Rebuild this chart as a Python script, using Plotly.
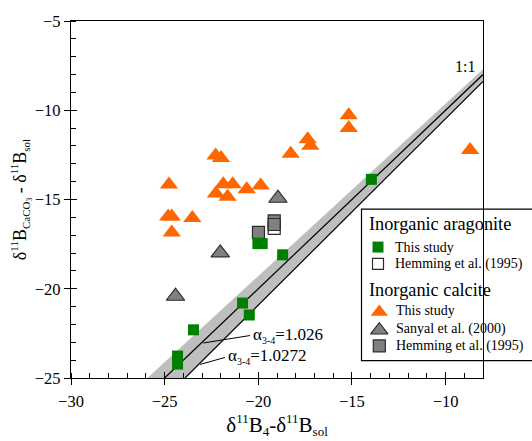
import plotly.graph_objects as go

# ---- data -------------------------------------------------------------
# Inorganic aragonite, this study
arag_x = [-13.96, -18.70, -20.02, -19.79, -20.84, -20.48, -23.46, -24.31, -24.31]
arag_y = [-13.87, -18.10, -17.47, -17.47, -20.80, -21.47, -22.30, -23.77, -24.22]
# Inorganic aragonite, Hemming et al. (1995)
hem_arag_x = [-19.15]
hem_arag_y = [-16.62]
# Inorganic calcite, this study
calc_x = [-15.17, -15.17, -17.36, -17.22, -18.27, -8.69, -22.28, -21.99,
          -24.77, -21.87, -21.37, -22.26, -21.64, -20.62, -19.87,
          -24.81, -24.62, -23.52, -24.62]
calc_y = [-10.28, -11.00, -11.63, -11.99, -12.44, -12.23, -12.54, -12.68,
          -14.16, -14.15, -14.15, -14.66, -14.84, -14.42, -14.21,
          -15.95, -15.95, -16.04, -16.85]
# Inorganic calcite, Sanyal et al. (2000)
sanyal_x = [-18.95, -22.03, -24.42]
sanyal_y = [-14.93, -17.99, -20.42]
# Inorganic calcite, Hemming et al. (1995)
hem_calc_x = [-19.15, -19.99, -19.15]
hem_calc_y = [-16.20, -16.84, -16.40]

# reference lines
line_11_x = [-25.0, -8.0]
line_11_y = [-25.0, -8.0]
line_alt_x = [-23.91, -8.0]
line_alt_y = [-25.0, -8.39]
band_x = [-25.92, -8.0, -8.0, -23.91]
band_y = [-25.0, -7.70, -8.39, -25.0]

FONT = "Liberation Serif, Times New Roman, serif"
ORANGE = "#FF6600"
GREEN = "#008000"
GRAY = "#808080"
EDGE = "#2b2b2b"
BAND = "#BEBEBE"

fig = go.Figure()

# uncertainty band and reference lines
fig.add_trace(go.Scatter(x=band_x + [band_x[0]], y=band_y + [band_y[0]],
                         mode="lines", fill="toself", fillcolor=BAND,
                         line=dict(width=0), hoverinfo="skip"))
fig.add_trace(go.Scatter(x=line_11_x, y=line_11_y, mode="lines",
                         line=dict(color="black", width=1.2)))
fig.add_trace(go.Scatter(x=line_alt_x, y=line_alt_y, mode="lines",
                         line=dict(color="black", width=1.2)))

# data series
fig.add_trace(go.Scatter(x=calc_x, y=calc_y, mode="markers",
                         marker=dict(symbol="triangle-up", size=16, color=ORANGE,
                                     line=dict(width=0))))
fig.add_trace(go.Scatter(x=sanyal_x, y=sanyal_y, mode="markers",
                         marker=dict(symbol="triangle-up", size=16, color=GRAY,
                                     line=dict(width=1.2, color=EDGE))))
fig.add_trace(go.Scatter(x=hem_arag_x, y=hem_arag_y, mode="markers",
                         marker=dict(symbol="square", size=12, color="white",
                                     line=dict(width=1.2, color=EDGE))))
fig.add_trace(go.Scatter(x=hem_calc_x, y=hem_calc_y, mode="markers",
                         marker=dict(symbol="square", size=12, color=GRAY,
                                     line=dict(width=1.2, color=EDGE))))
fig.add_trace(go.Scatter(x=arag_x, y=arag_y, mode="markers",
                         marker=dict(symbol="square", size=11, color=GREEN,
                                     line=dict(width=0))))

# ---- legend, laid out on a pixel-scaled overlay --------------------------
L, R, T, B = 71, 483, 19, 389   # plot area in pixels
W, H = 532, 441

def px(x):
    return (x - L) / (R - L)

def py(y):
    return (B - y) / (B - T)

legend_items = [
    ("square", 11, GREEN, 0, 378, 253.3, "This study"),
    ("square", 11, "white", 1.2, 378, 270.7, "Hemming et al. (1995)"),
    ("triangle-up", 15, ORANGE, 0, 379.3, 320.5, "This study"),
    ("triangle-up", 15, GRAY, 1.2, 379.3, 339.5, "Sanyal et al. (2000)"),
    ("square", 12, GRAY, 1.2, 379.3, 355.7, "Hemming et al. (1995)"),
]
for sym, size, col, lw, lx, ly, label in legend_items:
    fig.add_trace(go.Scatter(x=[lx], y=[ly], xaxis="x2", yaxis="y2",
                             mode="markers", cliponaxis=False,
                             marker=dict(symbol=sym, size=size, color=col,
                                         line=dict(width=lw, color=EDGE))))

fig.add_shape(type="rect", xref="paper", yref="paper",
              x0=px(361.5), x1=px(545), y0=py(214), y1=py(371),
              line=dict(color="black", width=1.2), fillcolor="white", layer="below")

annotations = []
for text, lx, ly in [("Inorganic aragonite", 366.5, 229.3),
                     ("Inorganic calcite", 366.5, 298.3)]:
    annotations.append(dict(text=text, x=px(lx), y=py(ly), xref="paper", yref="paper",
                            xanchor="left", yanchor="middle", showarrow=False,
                            font=dict(family=FONT, size=18.3, color="black")))
for sym, size, col, lw, lx, ly, label in legend_items:
    annotations.append(dict(text=label, x=px(lx + 15), y=py(ly if sym == "square" else ly - 1.2),
                            xref="paper", yref="paper",
                            xanchor="left", yanchor="middle", showarrow=False,
                            font=dict(family=FONT, size=14, color="black")))

# line labels
annotations.append(dict(text="1:1", x=-8.33, y=-7.55, xref="x", yref="y",
                        xanchor="right", yanchor="middle", showarrow=False,
                        font=dict(family=FONT, size=16, color="black")))
sub34 = '<sub><span style="font-size:10px">3-4</span></sub>'
annotations.append(dict(text="α" + sub34 + "=1.026", x=-18.42, y=-22.62,
                        xref="x", yref="y", xanchor="center", yanchor="middle",
                        showarrow=False, font=dict(family=FONT, size=17, color="black")))
annotations.append(dict(text="α" + sub34 + "=1.0272", x=-19.51, y=-23.79,
                        xref="x", yref="y", xanchor="center", yanchor="middle",
                        showarrow=False, font=dict(family=FONT, size=17, color="black")))

# leader lines for the α labels
fig.add_shape(type="line", xref="x", yref="y", x0=-22.94, y0=-23.04, x1=-20.44, y1=-22.62,
              line=dict(color="black", width=1))
fig.add_shape(type="line", xref="x", yref="y", x0=-23.11, y0=-24.24, x1=-21.78, y1=-23.85,
              line=dict(color="black", width=1))

# inward halves of the major ticks
fig.add_trace(go.Scatter(x=[-30], y=[-25], xaxis="x3", yaxis="y3", mode="markers",
                         marker=dict(opacity=0), hoverinfo="skip"))


def small(txt, size):
    return f'<span style="font-size:{size}px">{txt}</span>'


x_title = ("δ<sup>" + small("11", 13) + "</sup>B<sub>" + small("4", 13) + "</sub>-δ<sup>"
           + small("11", 13) + "</sup>B<sub>" + small("sol", 13) + "</sub>")
y_title = ("δ<sup>" + small("11", 11) + "</sup>B<sub>" + small("CaCO", 11)
           + "<sub>" + small("3", 7.5) + "</sub></sub> - δ<sup>" + small("11", 11)
           + "</sup>B<sub>" + small("sol", 11) + "</sub>")

tickfont = dict(family=FONT, size=16.5, color="black")
fig.update_layout(
    width=W, height=H,
    margin=dict(l=L, r=W - R, t=T, b=H - B, pad=0),
    paper_bgcolor="white", plot_bgcolor="white",
    showlegend=False,
    font=dict(family=FONT, color="black"),
    annotations=annotations,
    xaxis=dict(range=[-30, -8], tick0=-30, dtick=5, ticks="outside", ticklen=6,
               tickwidth=1.2, tickcolor="black", ticklabelstandoff=2,
               minor=dict(dtick=1, ticks="inside", ticklen=5, tickwidth=1, tickcolor="black"),
               showline=True, linecolor="black", linewidth=1.3, mirror=True,
               showgrid=False, zeroline=False, tickfont=tickfont,
               title=dict(text=x_title,
                          font=dict(family=FONT, size=21, color="black"), standoff=3)),
    yaxis=dict(range=[-25, -5], tick0=-25, dtick=5, ticks="outside", ticklen=6,
               tickwidth=1.2, tickcolor="black",
               minor=dict(dtick=1, ticks="inside", ticklen=5, tickwidth=1, tickcolor="black"),
               showline=True, linecolor="black", linewidth=1.3, mirror=True,
               showgrid=False, zeroline=False, tickfont=tickfont,
               title=dict(text=y_title,
                          font=dict(family=FONT, size=18, color="black"), standoff=3)),
    xaxis2=dict(range=[L, R], overlaying="x", anchor="y2", visible=False),
    yaxis2=dict(range=[B, T], overlaying="y", anchor="x2", visible=False),
    xaxis3=dict(range=[-30, -8], tick0=-30, dtick=5, overlaying="x", anchor="y3",
                ticks="inside", ticklen=6, tickwidth=1.2, tickcolor="black",
                showticklabels=False, showline=False, showgrid=False, zeroline=False),
    yaxis3=dict(range=[-25, -5], tick0=-25, dtick=5, overlaying="y", anchor="x3",
                ticks="inside", ticklen=6, tickwidth=1.2, tickcolor="black",
                showticklabels=False, showline=False, showgrid=False, zeroline=False),
)

fig.write_html("out.html")
